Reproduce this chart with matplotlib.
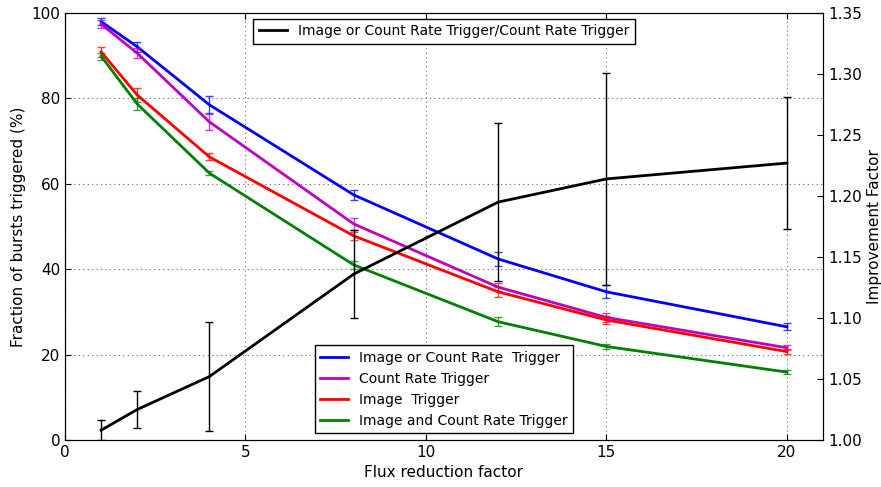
import numpy as np
from matplotlib import pyplot as plt

flux = [1, 2, 4, 8, 12, 15, 20]

# fraction of bursts triggered (%)
img_or_cr = [98.0, 92.1, 78.5, 57.4, 42.4, 34.7, 26.5]
img_or_cr_err = [0.8, 1.2, 2.0, 1.2, 1.7, 1.5, 0.8]
cr = [97.4, 90.6, 74.5, 50.6, 35.8, 28.7, 21.6]
cr_err = [0.9, 1.2, 1.8, 1.5, 1.0, 1.0, 0.6]
img = [90.9, 80.8, 66.3, 47.8, 34.7, 28.1, 20.7]
img_err = [1.2, 1.6, 0.8, 1.0, 1.2, 1.0, 0.6]
img_and_cr = [89.9, 78.7, 62.5, 41.0, 27.7, 21.9, 15.9]
img_and_cr_err = [0.8, 1.5, 0.5, 1.0, 1.0, 0.5, 0.4]

# improvement factor (right axis)
improvement = [1.008, 1.025, 1.052, 1.136, 1.195, 1.214, 1.227]
improvement_err = [0.008, 0.0153, 0.0445, 0.036, 0.065, 0.087, 0.054]

plt.rcParams['font.family'] = 'DejaVu Sans'
plt.rcParams['xtick.direction'] = 'in'
plt.rcParams['ytick.direction'] = 'in'

fig = plt.figure(figsize=(8.81, 4.87), dpi=100)
ax = fig.add_axes([65 / 881, 1 - 440 / 487, (823 - 65) / 881, (440 - 13) / 487])

series = [
    (img_or_cr, img_or_cr_err, 'b', 'Image or Count Rate  Trigger'),
    (cr, cr_err, 'm', 'Count Rate Trigger'),
    (img, img_err, 'r', 'Image  Trigger'),
    (img_and_cr, img_and_cr_err, 'g', 'Image and Count Rate Trigger'),
]
for vals, errs, col, lab in series:
    ax.errorbar(flux, vals, yerr=errs, fmt='none', elinewidth=1,
                capsize=3, ecolor=col, alpha=0.75)
    ax.plot(flux, vals, color=col, lw=2, label=lab)

ax.set_xlim(0, 21)
ax.set_ylim(0, 100)
ax.set_xticks([0, 5, 10, 15, 20])
ax.set_yticks([0, 20, 40, 60, 80, 100])
ax.tick_params(labelsize=11, top=True, length=4)
ax.grid(True, linestyle=(0, (1, 3)), color='0.4', lw=0.8)
ax.set_xlabel('Flux reduction factor', fontsize=11)
ax.set_ylabel('Fraction of bursts triggered (%)', fontsize=11)
ax.legend(loc='lower center', fontsize=10, fancybox=False, edgecolor='black',
          framealpha=1, handlelength=2)

ax2 = ax.twinx()
ax2.errorbar(flux, improvement, yerr=improvement_err, fmt='none',
             elinewidth=1, capsize=3, ecolor='k')
ax2.plot(flux, improvement, color='k', lw=2,
         label='Image or Count Rate Trigger/Count Rate Trigger')
ax2.set_ylim(1.0, 1.35)
ax2.set_yticks(np.arange(1.0, 1.351, 0.05))
ax2.set_yticklabels(['%.2f' % t for t in np.arange(1.0, 1.351, 0.05)])
ax2.tick_params(labelsize=11, length=4)
ax2.set_ylabel('Improvement Factor', fontsize=11)
ax2.legend(loc='upper center', fontsize=10, fancybox=False, edgecolor='black',
           framealpha=1, handlelength=2, borderaxespad=0.4)

fig.savefig('out.png', dpi=100)
